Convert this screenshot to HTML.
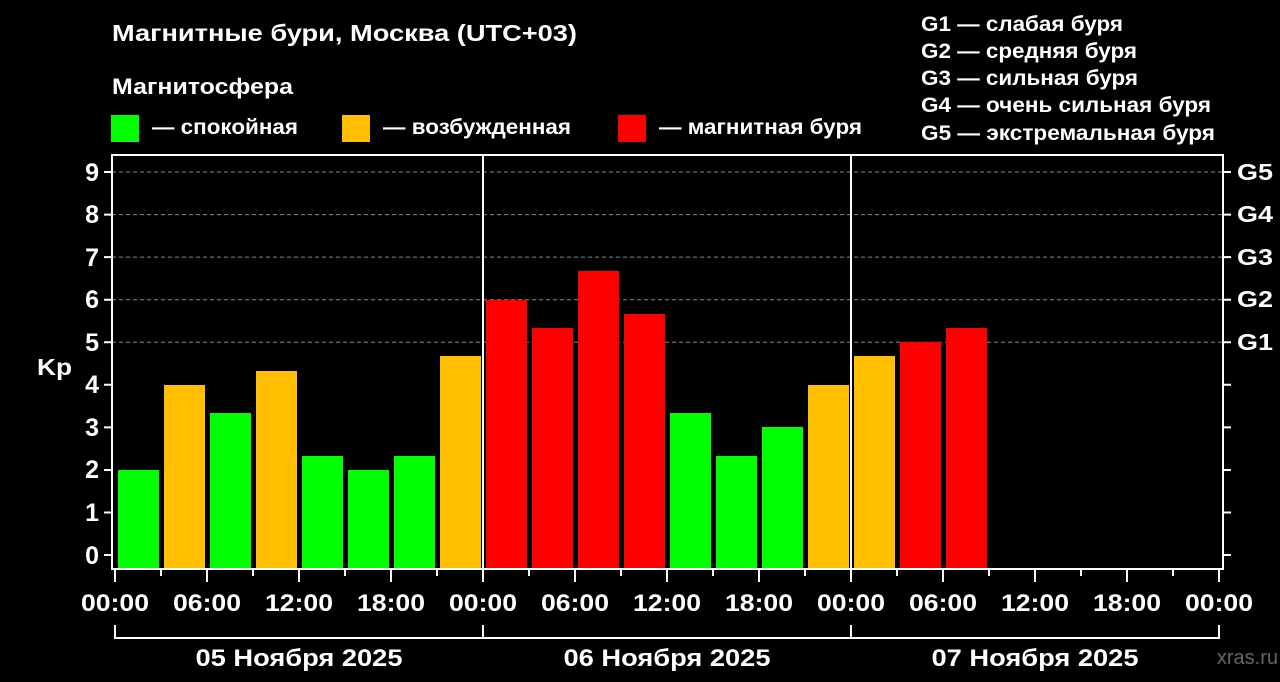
<!DOCTYPE html><html><head><meta charset="utf-8"><style>body{margin:0;background:#000}svg{display:block}text{font-family:"Liberation Sans",sans-serif;font-weight:bold;fill:#fff}</style></head><body>
<svg width="1280" height="682" viewBox="0 0 1280 682">
<rect width="1280" height="682" fill="#000"/>
<text x="112" y="41" font-size="23" textLength="465" lengthAdjust="spacingAndGlyphs">Магнитные бури, Москва (UTC+03)</text>
<text x="112" y="94" font-size="22" textLength="181" lengthAdjust="spacingAndGlyphs">Магнитосфера</text>
<rect x="111" y="115" width="28" height="27" fill="#00ff00"/><text x="152" y="134" font-size="21" textLength="146" lengthAdjust="spacingAndGlyphs">— спокойная</text>
<rect x="342" y="115" width="28" height="27" fill="#ffbf00"/><text x="383" y="134" font-size="21" textLength="188" lengthAdjust="spacingAndGlyphs">— возбужденная</text>
<rect x="618" y="115" width="28" height="27" fill="#ff0000"/><text x="659" y="134" font-size="21" textLength="203" lengthAdjust="spacingAndGlyphs">— магнитная буря</text>
<g font-size="21"><text x="921" y="31" textLength="202" lengthAdjust="spacingAndGlyphs">G1 — слабая буря</text><text x="921" y="58" textLength="216" lengthAdjust="spacingAndGlyphs">G2 — средняя буря</text><text x="921" y="85" textLength="217" lengthAdjust="spacingAndGlyphs">G3 — сильная буря</text><text x="921" y="112" textLength="290" lengthAdjust="spacingAndGlyphs">G4 — очень сильная буря</text><text x="921" y="140" textLength="294" lengthAdjust="spacingAndGlyphs">G5 — экстремальная буря</text></g>
<g stroke="#888" stroke-dasharray="4,3" stroke-width="1">
<line x1="112" x2="1223" y1="172" y2="172"/><line x1="112" x2="1223" y1="214.6" y2="214.6"/><line x1="112" x2="1223" y1="257.1" y2="257.1"/><line x1="112" x2="1223" y1="299.7" y2="299.7"/><line x1="112" x2="1223" y1="342.3" y2="342.3"/></g>
<g fill="#00ff00"><rect x="118" y="470" width="41" height="99"/><rect x="210" y="413" width="41" height="156"/><rect x="302" y="456" width="41" height="113"/><rect x="348" y="470" width="41" height="99"/><rect x="394" y="456" width="41" height="113"/><rect x="670" y="413" width="41" height="156"/><rect x="716" y="456" width="41" height="113"/><rect x="762" y="427" width="41" height="142"/></g>
<g fill="#ffbf00"><rect x="164" y="385" width="41" height="184"/><rect x="256" y="371" width="41" height="198"/><rect x="440" y="356" width="41" height="213"/><rect x="808" y="385" width="41" height="184"/><rect x="854" y="356" width="41" height="213"/></g>
<g fill="#ff0000"><rect x="486" y="300" width="41" height="269"/><rect x="532" y="328" width="41" height="241"/><rect x="578" y="271" width="41" height="298"/><rect x="624" y="314" width="41" height="255"/><rect x="900" y="342" width="41" height="227"/><rect x="946" y="328" width="41" height="241"/></g>
<g stroke="#fff" stroke-width="2" fill="none">
<rect x="112" y="155" width="1111" height="414"/>
<line x1="483" y1="155" x2="483" y2="569"/><line x1="851" y1="155" x2="851" y2="569"/>
<path d="M115 625V638H483V625M483 638H851V625M851 638H1219V625"/>
</g>
<g stroke="#fff" stroke-width="2">
<path d="M104 172h8M104 214.6h8M104 257.1h8M104 299.7h8M104 342.3h8M104 384.8h8M104 427.4h8M104 470h8M104 512.5h8M104 555h8"/>
<path d="M1223 172h8M1223 214.6h8M1223 257.1h8M1223 299.7h8M1223 342.3h8M1223 384.8h8M1223 427.4h8M1223 470h8M1223 512.5h8M1223 555h8"/>
<path d="M115 569v13M161 569v7M207 569v13M253 569v7M299 569v13M345 569v7M391 569v13M437 569v7M483 569v13M529 569v7M575 569v13M621 569v7M667 569v13M713 569v7M759 569v13M805 569v7M851 569v13M897 569v7M943 569v13M989 569v7M1035 569v13M1081 569v7M1127 569v13M1173 569v7M1219 569v13"/>
</g>
<g font-size="25" text-anchor="end"><text x="99" y="181">9</text><text x="99" y="223">8</text><text x="99" y="266">7</text><text x="99" y="308">6</text><text x="99" y="351">5</text><text x="99" y="393">4</text><text x="99" y="436">3</text><text x="99" y="478">2</text><text x="99" y="521">1</text><text x="99" y="564">0</text></g>
<text x="37" y="375" font-size="23" textLength="35" lengthAdjust="spacingAndGlyphs">Kp</text>
<g font-size="23"><text x="1237" y="180" textLength="36" lengthAdjust="spacingAndGlyphs">G5</text><text x="1237" y="222" textLength="36" lengthAdjust="spacingAndGlyphs">G4</text><text x="1237" y="265" textLength="36" lengthAdjust="spacingAndGlyphs">G3</text><text x="1237" y="307" textLength="36" lengthAdjust="spacingAndGlyphs">G2</text><text x="1237" y="350" textLength="36" lengthAdjust="spacingAndGlyphs">G1</text></g>
<g font-size="24" text-anchor="middle"><text x="115" y="611" textLength="68" lengthAdjust="spacingAndGlyphs">00:00</text><text x="207" y="611" textLength="68" lengthAdjust="spacingAndGlyphs">06:00</text><text x="299" y="611" textLength="68" lengthAdjust="spacingAndGlyphs">12:00</text><text x="391" y="611" textLength="68" lengthAdjust="spacingAndGlyphs">18:00</text><text x="483" y="611" textLength="68" lengthAdjust="spacingAndGlyphs">00:00</text><text x="575" y="611" textLength="68" lengthAdjust="spacingAndGlyphs">06:00</text><text x="667" y="611" textLength="68" lengthAdjust="spacingAndGlyphs">12:00</text><text x="759" y="611" textLength="68" lengthAdjust="spacingAndGlyphs">18:00</text><text x="851" y="611" textLength="68" lengthAdjust="spacingAndGlyphs">00:00</text><text x="943" y="611" textLength="68" lengthAdjust="spacingAndGlyphs">06:00</text><text x="1035" y="611" textLength="68" lengthAdjust="spacingAndGlyphs">12:00</text><text x="1127" y="611" textLength="68" lengthAdjust="spacingAndGlyphs">18:00</text><text x="1219" y="611" textLength="68" lengthAdjust="spacingAndGlyphs">00:00</text>
<text x="299" y="666" textLength="207" lengthAdjust="spacingAndGlyphs">05 Ноября 2025</text><text x="667" y="666" textLength="207" lengthAdjust="spacingAndGlyphs">06 Ноября 2025</text><text x="1035" y="666" textLength="207" lengthAdjust="spacingAndGlyphs">07 Ноября 2025</text></g>
<text x="1278" y="664" font-size="20" text-anchor="end" style="fill:#666;font-weight:normal">xras.ru</text>
</svg></body></html>
